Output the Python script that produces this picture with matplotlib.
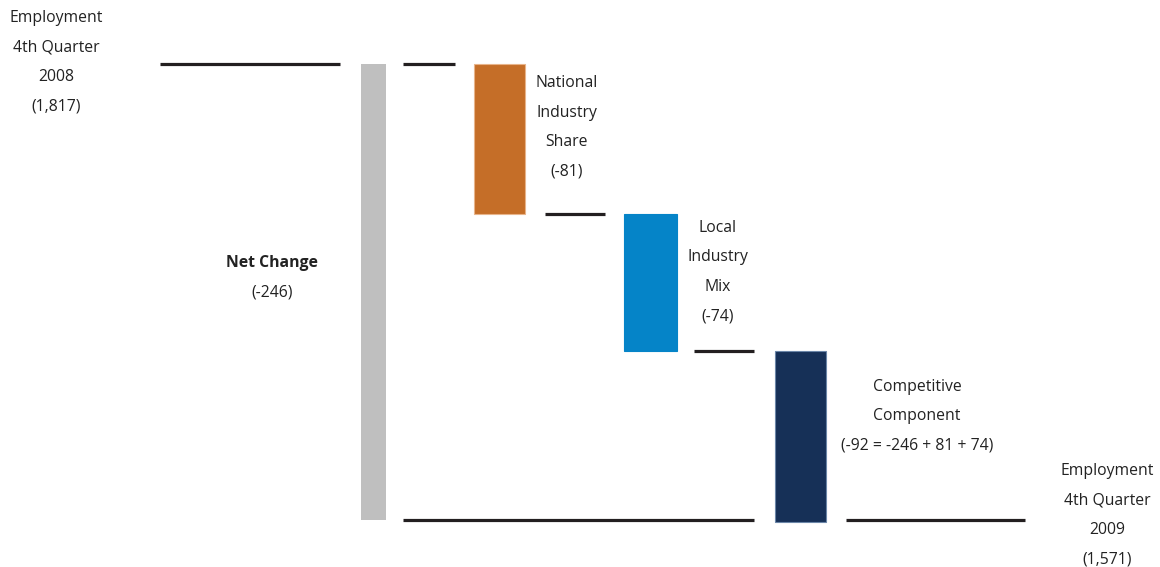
import numpy as np
import matplotlib
matplotlib.use("Agg")
import matplotlib.pyplot as plt

# data
start_value = 1817
end_value = 1571
net_change = -246
component_names = ["National\nIndustry\nShare", "Local\nIndustry\nMix", "Competitive\nComponent"]
component_values = [-81, -74, -92]
component_notes = ["(-81)", "(-74)", "(-92 = -246 + 81 + 74)"]
start_label = "Employment\n4th Quarter\n2008\n(1,817)"
end_label = "Employment\n4th Quarter\n2009\n(1,571)"

plt.rcParams["font.family"] = ["Open Sans", "DejaVu Sans"]

fig = plt.figure(figsize=(11.6, 5.67), dpi=100)
ax = fig.add_axes([0, 0, 1, 1])
ax.set_xlim(0, 1160)
# y-osa v hodnotách zaměstnanosti, převrácená na pixely obrázku
px_per_unit = 456 / 246
ax.set_ylim(start_value - (567 - 64) / px_per_unit, start_value + 64 / px_per_unit)
ax.axis("off")


def py(p):
    # pixelová pozice textu -> hodnota na ose y
    return start_value - (p - 64) / px_per_unit


line_kw = dict(color="#231f20", linewidth=2.3, solid_capstyle="butt")
txt_kw = dict(ha="center", va="center", fontsize=11.3, color="#222222", linespacing=2.12)

# kumulativní úrovně
levels = start_value + np.concatenate([[0], np.cumsum(component_values)])

# počáteční úroveň
ax.plot([160, 340], [start_value, start_value], **line_kw)
ax.text(56, py(62), start_label, **txt_kw)

# čistá změna (šedý sloupec)
ax.bar(373.5, -net_change, bottom=start_value + net_change, width=25, color="#bfbfbf")
ax.text(272, py(263), "Net Change", fontweight="bold", **txt_kw)
ax.text(272, py(293), f"({net_change})", **txt_kw)

# komponenty
bar_x = [499.5, 650.5, 800.5]
bar_w = [51, 53, 51]
colors = ["#c56e28", "#0584c8", "#163057"]
edges = ["#e8b48a", "#0584c8", "#6b86a8"]
pre_lines = [(403, 455), (545, 605), (694, 754)]
label_x = [567, 718, 917]
label_y = [127.5, 272, 416]
for i, val in enumerate(component_values):
    ax.plot(pre_lines[i], [levels[i], levels[i]], **line_kw)
    ax.bar(bar_x[i], -val, bottom=levels[i + 1], width=bar_w[i], color=colors[i],
           edgecolor=edges[i], linewidth=0.8)
    ax.text(label_x[i], py(label_y[i]), component_names[i] + "\n" + component_notes[i], **txt_kw)

# konečná úroveň
ax.plot([403, 754], [end_value, end_value], **line_kw)
ax.plot([846, 1025], [end_value, end_value], **line_kw)
ax.text(1107, py(515.5), end_label, **txt_kw)

fig.savefig("out.png", dpi=100)
